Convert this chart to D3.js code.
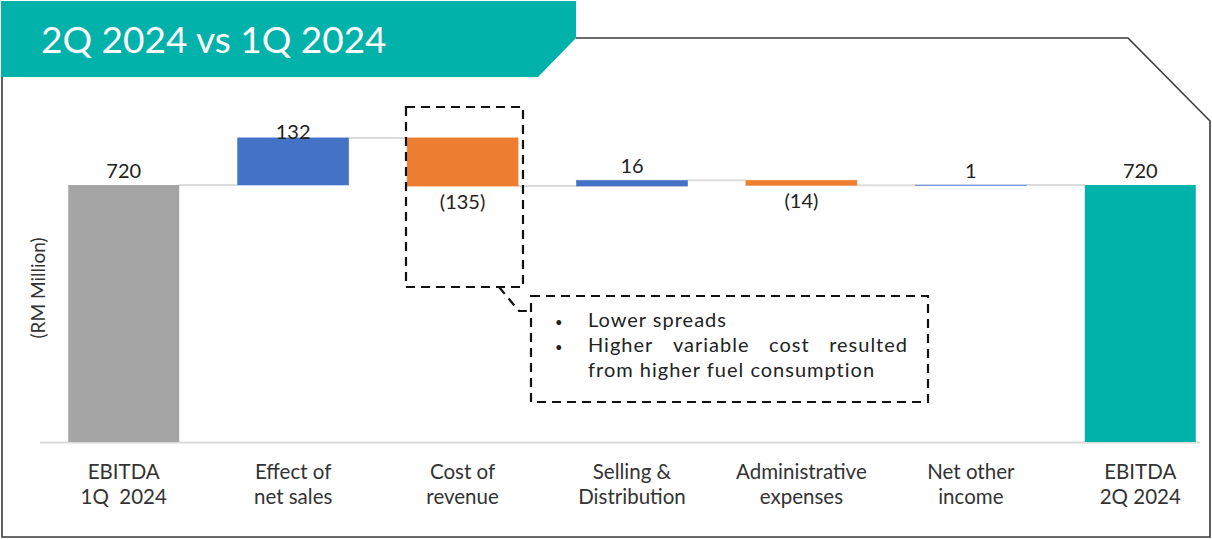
<!DOCTYPE html>
<html><head><meta charset="utf-8">
<script src="https://cdn.jsdelivr.net/npm/d3@7"></script>
<style>html,body{margin:0;padding:0;background:#fff}svg{display:block}text{white-space:pre}</style>
</head><body>
<svg id="c" width="1212" height="539"></svg>
<script>
const title = "2Q 2024 vs 1Q 2024";
const categories = [["EBITDA","1Q  2024"],["Effect of","net sales"],["Cost of","revenue"],["Selling &","Distribution"],["Administrative","expenses"],["Net other","income"],["EBITDA","2Q 2024"]];
const values = [720, 132, -135, 16, -14, 1, 720];
const kinds = ["total","delta","delta","delta","delta","delta","total"];
const valueLabels = ["720","132","(135)","16","(14)","1","720"];
const yLabel = "(RM Million)";
const notes = ["Lower spreads", "Higher variable cost resulted", "from higher fuel consumption"];

const svg = d3.select("#c");
const font = "Lato, 'Open Sans', sans-serif";
const teal = "#00B2A9";

// frame
svg.append("path")
  .attr("d","M576,38 L1128,38 L1210,121 L1210,537 L2,537 L2,77")
  .attr("fill","none").attr("stroke","#3a3a3a").attr("stroke-width",1.6);
svg.append("path")
  .attr("d","M1,1 L576,1 L576,38 L538,77 L1,77 Z").attr("fill",teal);
svg.append("text").attr("x",41).attr("y",53).attr("fill","#fff")
  .attr("font-family",font).attr("font-size",37).text(title);

// compute waterfall
let run = 0;
const bars = values.map((v,i)=>{
  let y0,y1;
  if(kinds[i]==="total"){ y0=0; y1=v; run=v; }
  else { y0=run; y1=run+v; run=y1; }
  return {i, v, y0, y1, end: run, kind: kinds[i]};
});

const x = d3.scaleBand().domain(d3.range(categories.length)).range([39,1225]).paddingInner(0.345).paddingOuter(0.1725);
const y = d3.scaleLinear().domain([0,720]).range([442,185]);

const colorOf = d=> d.i===0 ? "#A5A5A5" : d.i===values.length-1 ? teal : (d.v>=0 ? "#4472C4" : "#ED7D31");

// baseline
svg.append("line").attr("x1",40).attr("x2",1200).attr("y1",y(0)+0.5).attr("y2",y(0)+0.5)
  .attr("stroke","#d9d9d9").attr("stroke-width",2);

// connectors
const g = svg.append("g");
bars.slice(0,-1).forEach((d)=>{
  g.append("line").attr("x1",x(d.i)+x.bandwidth()).attr("x2",x(d.i+1))
    .attr("y1",y(d.end)).attr("y2",y(d.end)).attr("stroke","#dcdcdc").attr("stroke-width",2);
});

g.selectAll("rect.bar").data(bars).join("rect").attr("class","bar")
  .attr("x",d=>x(d.i)).attr("width",x.bandwidth())
  .attr("y",d=>y(Math.max(d.y0,d.y1))).attr("height",d=>Math.abs(y(d.y0)-y(d.y1)))
  .attr("fill",colorOf)
  .attr("stroke",d=>d.kind==="delta"?colorOf(d):"none").attr("stroke-width",0.8).attr("stroke-opacity",0.75);

// value labels
g.selectAll("text.val").data(bars).join("text").attr("class","val")
  .attr("x",d=>x(d.i)+x.bandwidth()/2)
  .attr("y",d=> d.v>=0 ? Math.max(y(Math.max(d.y0,d.y1))-7,139) : y(Math.min(d.y0,d.y1))+23)
  .attr("text-anchor","middle").attr("font-family",font).attr("font-size",20).attr("fill","#222")
  .text(d=>valueLabels[d.i]);

// category labels
categories.forEach((c,i)=>{
  const t = svg.append("text").attr("x",x(i)+x.bandwidth()/2).attr("text-anchor","middle")
    .attr("font-family",font).attr("font-size",20.5).attr("fill","#333");
  c.forEach((line,j)=>t.append("tspan").attr("x",x(i)+x.bandwidth()/2).attr("y",479+j*25).text(line));
});

// y label
svg.append("text").attr("transform","translate(45,288) rotate(-90)").attr("text-anchor","middle")
  .attr("font-family",font).attr("font-size",19).attr("fill","#333").text(yLabel);

// annotation
const dash = {"stroke":"#111","stroke-width":2.2,"stroke-dasharray":"9,6","fill":"none"};
const r1 = svg.append("rect").attr("x",406).attr("y",107).attr("width",117).attr("height",180);
const r2 = svg.append("rect").attr("x",531).attr("y",296).attr("width",397).attr("height",106);
const ld = svg.append("path").attr("d","M499,287 L519,311 L531,311");
[r1,r2,ld].forEach(s=>Object.entries(dash).forEach(([k,v])=>s.attr(k,v)));

const nf = {"font-family":font,"font-size":20,"fill":"#222","letter-spacing":1};
const addT=(xx,yy,s)=>{const t=svg.append("text").attr("x",xx).attr("y",yy).text(s);Object.entries(nf).forEach(([k,v])=>t.attr(k,v)); return t;};
addT(555,327,"•").attr("font-size",13).attr("letter-spacing",0);
addT(555,352,"•").attr("font-size",13).attr("letter-spacing",0);
addT(588,327,notes[0]);
// justified line
const words = notes[1].split(" ");
const wEls = words.map(w=>addT(0,352,w));
const widths = wEls.map(e=>e.node().getComputedTextLength());
const total = d3.sum(widths), left=588, right=908;
const gap = (right-left-total)/(words.length-1);
let cx=left; wEls.forEach((e,k)=>{e.attr("x",cx); cx+=widths[k]+gap;});
addT(588,377,notes[2]);
</script>
</body></html>
